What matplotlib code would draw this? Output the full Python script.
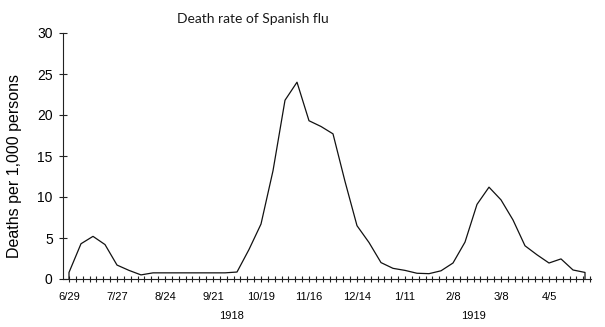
import matplotlib
matplotlib.use('Agg')
import matplotlib.pyplot as plt
from matplotlib.ticker import FixedLocator, NullFormatter
import numpy as np

# weekly death rate, weeks starting 6/29/1918
week_start = '6/29/1918'
death_rate = [0.8, 4.3, 5.2, 4.2, 1.7, 1.05, 0.5, 0.75, 0.75, 0.75,
              0.75, 0.75, 0.75, 0.75, 0.85, 3.6, 6.7, 13.2, 21.8, 24.0,
              19.3, 18.6, 17.7, 11.9, 6.5, 4.45, 2.0, 1.3, 1.05, 0.7,
              0.65, 1.0, 1.95, 4.5, 9.1, 11.2, 9.65, 7.2, 4.05, 2.95,
              1.95, 2.45, 1.1, 0.8]
date_labels = ['6/29', '7/27', '8/24', '9/21', '10/19', '11/16',
               '12/14', '1/11', '2/8', '3/8', '4/5']
year_labels = ['1918', '1919']
y_ticks = [0, 5, 10, 15, 20, 25, 30]

plt.rcParams['font.family'] = ['Liberation Sans', 'DejaVu Sans']

days = np.arange(len(death_rate)) * 7
# curve rises from and falls back to the axis at both ends
x = np.concatenate([[days[0]], days, [days[-1]]])
y = np.concatenate([[0], death_rate, [0]])

fig = plt.figure(figsize=(6.05, 3.27), dpi=100)
ax = fig.add_axes([63/605, 48/327, 528/605, 246/327])

ax.plot(x, y, color='#111111', lw=0.9)

ax.set_xlim(-3.5, 304.5)
ax.set_ylim(0, 30)

major_x = np.arange(len(date_labels)) * 28
ax.set_xticks(major_x)
ax.set_xticklabels(date_labels)
minor_x = [d for d in range(0, 305, 4) if d % 28 != 0]
ax.xaxis.set_minor_locator(FixedLocator(minor_x))
ax.xaxis.set_minor_formatter(NullFormatter())
ax.tick_params(axis='x', which='both', direction='inout', length=4.3,
               width=0.8, color='#222222', labelsize=8, pad=7.2)
ax.set_yticks(y_ticks)
ax.tick_params(axis='y', direction='inout', length=5.8, width=0.8,
               color='#222222', labelsize=10, pad=4.5)

for s in ['top', 'right']:
    ax.spines[s].set_visible(False)
for s in ['left', 'bottom']:
    ax.spines[s].set_linewidth(0.8)
    ax.spines[s].set_color('#222222')

fig.text(15/605, 1 - 166/327, 'Deaths per 1,000 persons', rotation=90,
         ha='center', va='center', fontsize=11.5)
fig.text(253/605, 1 - 19/327, 'Death rate of Spanish flu', ha='center',
         va='center', fontsize=10, family=['Lato', 'DejaVu Sans'],
         color='#1a1a1a')
fig.text(232/605, 1 - 316/327, year_labels[0], ha='center', va='center', fontsize=8)
fig.text(473/605, 1 - 316/327, year_labels[1], ha='center', va='center', fontsize=8)

fig.savefig('out.png', dpi=100)
